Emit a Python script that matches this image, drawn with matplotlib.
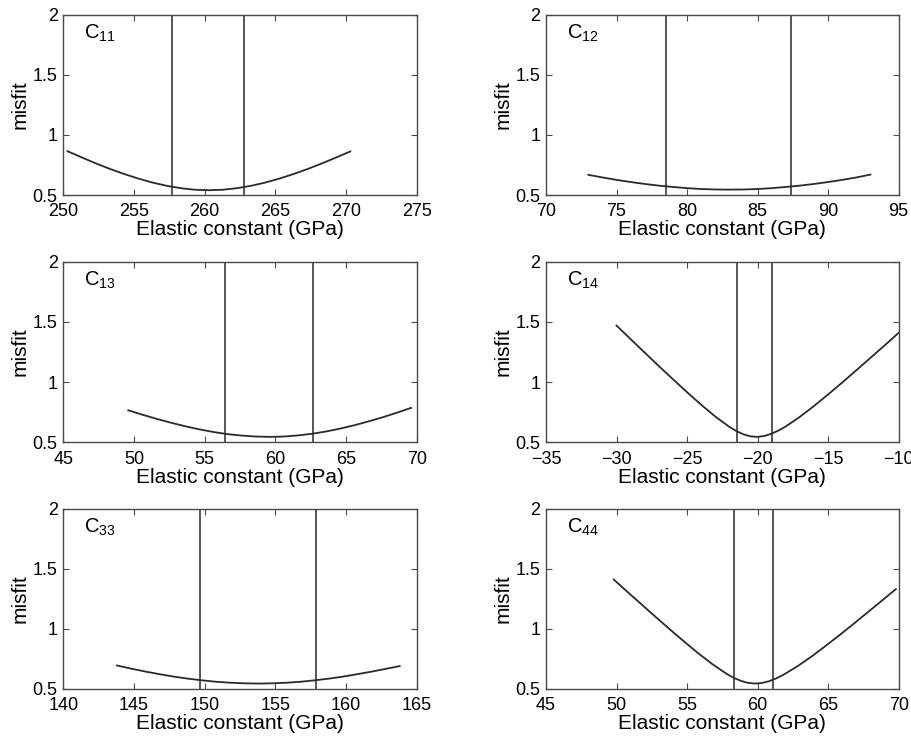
import matplotlib
matplotlib.use('Agg')
import matplotlib.pyplot as plt
from matplotlib.ticker import FormatStrFormatter, MultipleLocator

plt.rcParams['font.family'] = ['Liberation Sans', 'DejaVu Sans']
plt.rcParams['mathtext.fontset'] = 'custom'
plt.rcParams['mathtext.rm'] = 'Liberation Sans'

# misfit curves for each elastic constant (GPa)
c11_x = [250.3, 251.3, 252.3, 253.3, 254.3, 255.3, 256.3, 257.3, 258.3, 259.3, 260.3,
         261.3, 262.3, 263.3, 264.3, 265.3, 266.3, 267.3, 268.3, 269.3, 270.3]
c11_y = [0.864, 0.813, 0.763, 0.717, 0.675, 0.637, 0.604, 0.577, 0.557, 0.544, 0.540,
         0.544, 0.557, 0.577, 0.604, 0.637, 0.675, 0.717, 0.763, 0.812, 0.862]

c12_x = [73, 74, 75, 76, 77, 78, 79, 80, 81, 82, 83,
         84, 85, 86, 87, 88, 89, 90, 91, 92, 93]
c12_y = [0.668, 0.646, 0.626, 0.608, 0.592, 0.578, 0.567, 0.557, 0.550, 0.546, 0.545,
         0.546, 0.550, 0.557, 0.567, 0.578, 0.592, 0.608, 0.626, 0.646, 0.670]

c13_x = [49.6, 50.6, 51.6, 52.6, 53.6, 54.6, 55.6, 56.6, 57.6, 58.6, 59.6,
         60.6, 61.6, 62.6, 63.6, 64.6, 65.6, 66.6, 67.6, 68.6, 69.6]
c13_y = [0.766, 0.729, 0.695, 0.663, 0.634, 0.608, 0.586, 0.568, 0.556, 0.548, 0.545,
         0.548, 0.557, 0.571, 0.590, 0.614, 0.642, 0.674, 0.708, 0.746, 0.786]

c14_x = [-30, -29, -28, -27, -26, -25, -24, -23, -22,
         -21.5, -21, -20.5, -20, -19.5, -19, -18.5,
         -18, -17, -16, -15, -14, -13, -12, -11, -10]
c14_y = [1.470, 1.357, 1.245, 1.133, 1.024, 0.916, 0.812, 0.714, 0.628,
         0.593, 0.566, 0.549, 0.545, 0.553, 0.572, 0.599,
         0.632, 0.712, 0.802, 0.898, 0.997, 1.099, 1.202, 1.305, 1.410]

c33_x = [143.8, 144.8, 145.8, 146.8, 147.8, 148.8, 149.8, 150.8, 151.8, 152.8, 153.8,
         154.8, 155.8, 156.8, 157.8, 158.8, 159.8, 160.8, 161.8, 162.8, 163.8]
c33_y = [0.695, 0.669, 0.645, 0.623, 0.603, 0.586, 0.572, 0.560, 0.552, 0.547, 0.545,
         0.547, 0.552, 0.560, 0.572, 0.586, 0.603, 0.623, 0.644, 0.667, 0.690]

c44_x = [49.8, 50.8, 51.8, 52.8, 53.8, 54.8, 55.8, 56.8, 57.8,
         58.3, 58.8, 59.3, 59.8, 60.3, 60.8, 61.3,
         61.8, 62.8, 63.8, 64.8, 65.8, 66.8, 67.8, 68.8, 69.8]
c44_y = [1.410, 1.304, 1.200, 1.096, 0.993, 0.893, 0.796, 0.706, 0.626,
         0.593, 0.568, 0.551, 0.545, 0.550, 0.564, 0.587,
         0.616, 0.687, 0.768, 0.856, 0.947, 1.041, 1.137, 1.233, 1.330]

# error bounds (vertical lines)
c11_bounds = [257.7, 262.8]
c12_bounds = [78.5, 87.35]
c13_bounds = [56.45, 62.65]
c14_bounds = [-21.43, -18.95]
c33_bounds = [149.7, 157.9]
c44_bounds = [58.35, 61.07]

labels = ['11', '12', '13', '14', '33', '44']
xlims = [(250, 275), (70, 95), (45, 70), (-35, -10), (140, 165), (45, 70)]

panels = [
    (c11_x, c11_y, c11_bounds),
    (c12_x, c12_y, c12_bounds),
    (c13_x, c13_y, c13_bounds),
    (c14_x, c14_y, c14_bounds),
    (c33_x, c33_y, c33_bounds),
    (c44_x, c44_y, c44_bounds),
]

fig = plt.figure(figsize=(9.12, 7.39), dpi=100)

lefts = [0.0694, 0.5987]
widths = [0.3875, 0.3867]
bottoms = [0.7361, 0.4015, 0.0677]
height = 0.2442

line_col = '#2a2a2a'
frame_col = '#4a4a4a'

for k, (xs, ys, bounds) in enumerate(panels):
    row, col = k // 2, k % 2
    ax = fig.add_axes([lefts[col], bottoms[row], widths[col], height])

    ax.plot(xs, ys, color=line_col, linewidth=1.3)
    for b in bounds:
        ax.axvline(b, color=line_col, linewidth=1.1)

    ax.set_xlim(xlims[k])
    ax.set_ylim(0.5, 2)
    ax.xaxis.set_major_locator(MultipleLocator(5))
    ax.yaxis.set_major_locator(MultipleLocator(0.5))
    ax.yaxis.set_major_formatter(FormatStrFormatter('%g'))

    ax.tick_params(direction='in', top=True, right=True, length=4,
                   width=0.8, color=frame_col, labelsize=13)
    ax.tick_params(axis='x', pad=6)
    ax.tick_params(axis='y', pad=4)
    for sp in ax.spines.values():
        sp.set_color(frame_col)
        sp.set_linewidth(1.0)

    ax.set_xlabel('Elastic constant (GPa)', fontsize=15, labelpad=0)
    ax.set_ylabel('misfit', fontsize=15, labelpad=2)

    ax.text(0.06, 0.865, r'$\mathregular{C_{%s}}$' % labels[k],
            transform=ax.transAxes, fontsize=14.5, va='baseline', ha='left')

fig.savefig('out.png', dpi=100)
